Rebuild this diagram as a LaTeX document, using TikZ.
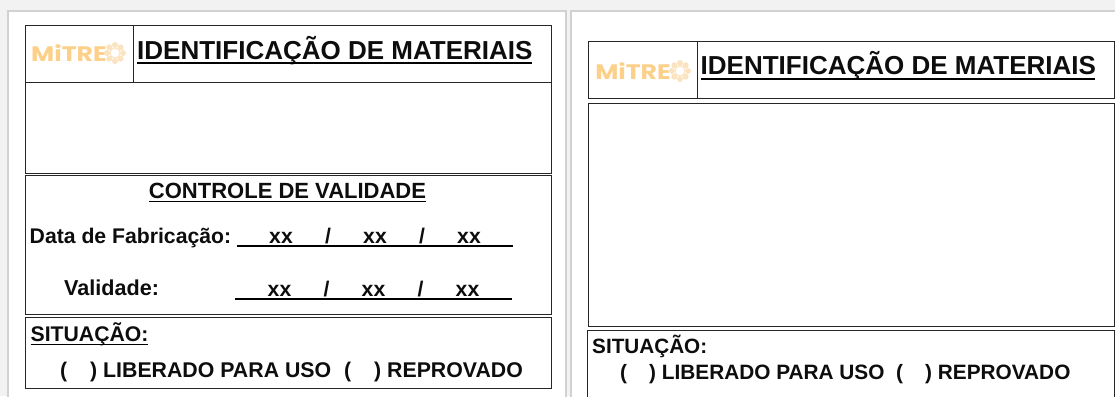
\documentclass[tikz,border=0pt]{standalone}
\usepackage{fontspec}
\setmainfont{Liberation Sans}
\newfontfamily\logofont{Poppins}
\definecolor{logoc}{HTML}{FDD08A}
\definecolor{gearc}{HTML}{FBE3C0}
\usetikzlibrary{calc}
\tikzset{
 x=1pt,y=-1pt,
 boxline/.style={draw=black!85,line width=1pt},
 pagebox/.style={draw=black!18,line width=1.5pt,fill=white},
 lbl/.style={inner sep=0pt,anchor=base west,font=\fontsize{#1}{#1}\selectfont\bfseries,text=black!95},
 lbl/.default=21.2,
 rule/.style={draw=black,line width=#1},
 rule/.default=1.2pt,
 logotxt/.style={inner sep=0pt,anchor=base west,text=logoc,xscale=1.2,font=\logofont\fontsize{21}{21}\selectfont\bfseries},
}
\newcommand{\gearat}[2]{%
 \foreach \a in {0,45,...,315}{\fill[gearc] ($(#1,#2)+(\a:8)$) circle (3);}
 \fill[white] (#1,#2) circle (4.5);
 \draw[gearc,line width=1pt] (#1,#2) circle (5);
}
\begin{document}
\begin{tikzpicture}
\useasboundingbox (0,0) rectangle (1115,396);
\fill[black!5] (0,0) rectangle (1115,396);
\draw[pagebox] (8,11) rectangle (566,400);
\draw[pagebox] (571,11) rectangle (1120,400);
% left panel
\draw[boxline] (25,26) rectangle (551.5,82);
\draw[boxline] (133,26) -- (133,82);
\draw[boxline] (25,82) rectangle (551.5,173);
\draw[boxline] (25,175.5) rectangle (551.5,314);
\draw[boxline] (25,317.5) rectangle (551.5,388);
\node[logotxt] (logoL) at (31,61) {MiTRE};
\gearat{115}{53}
\node[lbl=26] (titleL) at (137,59.5) {IDENTIFICAÇÃO DE MATERIAIS};
\draw[rule=2.5pt] (137,63) -- ++(395,0);
\node[lbl=22,anchor=base] (ctrl) at (287.5,198) {CONTROLE DE VALIDADE};
\draw[rule] (149,201.5) -- (426,201.5);
\node[lbl] (fab) at (29.5,243) {Data de Fabricação:};
\draw[rule] (237,246) -- (513,246);
\node[lbl,anchor=base] (x1) at (281,243) {xx};
\node[lbl,anchor=base] (s1) at (328,243) {/};
\node[lbl,anchor=base] (x2) at (375,243) {xx};
\node[lbl,anchor=base] (s2) at (422,243) {/};
\node[lbl,anchor=base] (x3) at (469,243) {xx};
\node[lbl=21.6] (val) at (64,295) {Validade:};
\draw[rule] (235,299) -- (512,299);
\node[lbl,anchor=base] (y1) at (279.5,296) {xx};
\node[lbl,anchor=base] (t1) at (326.5,296) {/};
\node[lbl,anchor=base] (y2) at (373.5,296) {xx};
\node[lbl,anchor=base] (t2) at (420.5,296) {/};
\node[lbl,anchor=base] (y3) at (467.5,296) {xx};
\node[lbl] (sitL) at (30.5,341) {SITUAÇÃO:};
\draw[rule] (30.5,344.5) -- (148,344.5);
\node[lbl] (p1) at (60,377) {(};
\node[lbl=21.3] (q1) at (90,377) {) LIBERADO PARA USO};
\node[lbl] (p2) at (344,377) {(};
\node[lbl=21.3] (q2) at (374,377) {) REPROVADO};
% right panel
\draw[boxline] (588,42) rectangle (1114.5,98);
\draw[boxline] (697,42) -- (697,98);
\draw[boxline] (588,103) rectangle (1114.5,326);
\draw[boxline] (587.5,330.5) rectangle (1114.5,400);
\node[logotxt] (logoR) at (595,79) {MiTRE};
\gearat{680}{71}
\node[lbl=26] (titleR) at (700.5,74.5) {IDENTIFICAÇÃO DE MATERIAIS};
\draw[rule=2.5pt] (701,79) -- ++(394,0);
\node[lbl=20.7] (sitR) at (592,353) {SITUAÇÃO:};
\node[lbl=20.8] (r1) at (620,379) {(};
\node[lbl=20.8] (s3) at (649,379) {) LIBERADO PARA USO};
\node[lbl=20.8] (r2) at (896,379) {(};
\node[lbl=20.8] (s4) at (925,379) {) REPROVADO};
\end{tikzpicture}
\end{document}
